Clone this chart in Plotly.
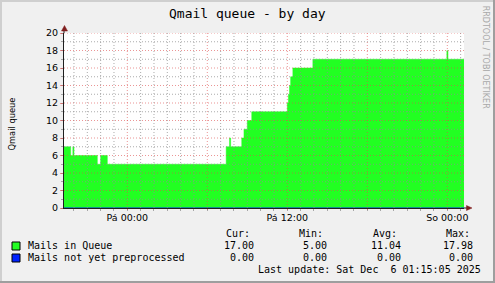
import plotly.graph_objects as go
import pandas as pd

# ---------------- data ----------------
range_start = "2025-12-04 19:15:05"
range_end = "2025-12-06 01:15:05"

queue_times = [
    "2025-12-04 19:15:05", "2025-12-04 19:45", "2025-12-04 19:55", "2025-12-04 20:00",
    "2025-12-04 21:45", "2025-12-04 22:00", "2025-12-04 22:30",
    "2025-12-05 07:25", "2025-12-05 07:40", "2025-12-05 07:45", "2025-12-05 08:35",
    "2025-12-05 08:45", "2025-12-05 09:00", "2025-12-05 09:20",
    "2025-12-05 12:00", "2025-12-05 12:05", "2025-12-05 12:10", "2025-12-05 12:15",
    "2025-12-05 12:25", "2025-12-05 13:55",
    "2025-12-05 23:58", "2025-12-06 00:03", "2025-12-06 01:15:05",
]
queue_values = [7, 6, 7, 6, 5, 6, 5, 7, 8, 7, 8, 9, 10, 11, 12, 13, 14, 15, 16, 17, 17.98, 17, 17]

pre_times = ["2025-12-04 19:15:05", "2025-12-06 01:15:05"]
pre_values = [0, 0]

x_tickvals = ["2025-12-05 00:00", "2025-12-05 06:00", "2025-12-05 12:00",
              "2025-12-05 18:00", "2025-12-06 00:00"]
x_ticktext = ["Pá 00:00", "", "Pá 12:00", "", "So 00:00"]
y_tickvals = [0, 2, 4, 6, 8, 10, 12, 14, 16, 18, 20]

series_names = ["Mails in Queue", "Mails not yet preprocessed"]
series_colors = ["#22ff22", "#0022ff"]
stat_headers = ["Cur:", "Min:", "Avg:", "Max:"]
stat_cur = [17.00, 0.00]
stat_min = [5.00, 0.00]
stat_avg = [11.04, 0.00]
stat_max = [17.98, 0.00]

title_text = "Qmail queue - by day"
y_title = "Qmail queue"
last_update = "Last update: Sat Dec  6 01:15:05 2025"
watermark = "RRDTOOL / TOBI OETIKER"

# ---------------- layout helpers ----------------
W, H = 495, 283
L, T, PW, PH = 64, 33, 400, 175


def px(x):
    return (x - L) / PW


def py(y):
    return (T + PH - y) / PH


MONO = "DejaVu Sans Mono"
SANS = "DejaVu Sans"
GRID = "rgba(143,143,143,0.75)"
MGRID = "rgba(222,79,79,0.6)"
ARROW = "rgb(128,31,31)"
AXIS = "rgb(31,31,31)"

fig = go.Figure()
fig.add_trace(go.Scatter(
    x=queue_times, y=queue_values, mode="lines", line_shape="hv",
    line=dict(color=series_colors[0], width=0.5), fill="tozeroy",
    fillcolor=series_colors[0], hoverinfo="skip", name=series_names[0]))
fig.add_trace(go.Scatter(
    x=pre_times, y=pre_values, mode="lines",
    line=dict(color=series_colors[1], width=1), hoverinfo="skip", name=series_names[1]))

shapes = []
# grid (drawn above the area, like rrdtool)
hours = pd.date_range("2025-12-04 20:00", "2025-12-06 01:00", freq="h")
for h in hours:
    major = h.hour % 6 == 0
    shapes.append(dict(type="line", xref="x", yref="paper", x0=h, x1=h, y0=0, y1=1,
                       layer="above",
                       line=dict(color=MGRID if major else GRID, width=1, dash="1px,2px")))
for v in range(1, 21):
    major = v % 2 == 0
    shapes.append(dict(type="line", xref="paper", yref="y", x0=0, x1=1, y0=v, y1=v,
                       layer="above",
                       line=dict(color=MGRID if major else GRID, width=1, dash="1px,2px")))

# axis extensions and arrows
shapes.append(dict(type="line", xref="paper", yref="paper", x0=px(64), x1=px(64),
                   y0=1, y1=py(29), line=dict(color=AXIS, width=1)))
shapes.append(dict(type="line", xref="paper", yref="paper", x0=1, x1=px(467),
                   y0=0, y1=0, line=dict(color=AXIS, width=1)))
shapes.append(dict(type="path", xref="paper", yref="paper",
                   path=f"M {px(61.5)},{py(31)} L {px(64.5)},{py(25.5)} L {px(67.5)},{py(31)} Z",
                   fillcolor=ARROW, line=dict(color=ARROW, width=0.5)))
shapes.append(dict(type="path", xref="paper", yref="paper",
                   path=f"M {px(466.5)},{py(205.5)} L {px(472)},{py(208)} L {px(466.5)},{py(210.5)} Z",
                   fillcolor=ARROW, line=dict(color=ARROW, width=0.5)))

# 3D frame
shapes.append(dict(type="rect", xref="paper", yref="paper", x0=px(0), x1=px(W),
                   y0=py(0), y1=py(2), fillcolor="#cfcfcf", line=dict(width=0), layer="above"))
shapes.append(dict(type="rect", xref="paper", yref="paper", x0=px(0), x1=px(2),
                   y0=py(0), y1=py(H), fillcolor="#cfcfcf", line=dict(width=0), layer="above"))
shapes.append(dict(type="rect", xref="paper", yref="paper", x0=px(0), x1=px(W),
                   y0=py(H - 2), y1=py(H), fillcolor="#9e9e9e", line=dict(width=0), layer="above"))
shapes.append(dict(type="rect", xref="paper", yref="paper", x0=px(W - 2), x1=px(W),
                   y0=py(0), y1=py(H), fillcolor="#9e9e9e", line=dict(width=0), layer="above"))

# legend squares
for i, c in enumerate(series_colors):
    top = 242 + 12 * i
    shapes.append(dict(type="rect", xref="paper", yref="paper", x0=px(12), x1=px(20),
                       y0=py(top), y1=py(top + 8), fillcolor=c,
                       line=dict(color="black", width=1)))

ann = []


def text(s, x, y, anchor="left", size=10, family=MONO, color="black", angle=0):
    ann.append(dict(text=s.replace(" ", "\u00a0"), x=px(x), y=py(y), xref="paper", yref="paper",
                    xanchor=anchor, yanchor="middle", showarrow=False, textangle=angle,
                    font=dict(family=family, size=size, color=color), borderpad=0))


text(title_text, 247, 13.5, anchor="center", size=13)
text(y_title, 11, 124.5, anchor="center", size=8.3, family=SANS, angle=-90)
text(watermark, 486.3, 57, anchor="center", size=8, family=SANS, color="#a8a8a8", angle=90)

col_left = [225.3, 298, 371.7, 445]
col_right = [255.3, 328.3, 401.7, 474]
for hdr, xl in zip(stat_headers, col_left):
    text(hdr, xl, 233.3)
rows = [(series_names[i], [stat_cur[i], stat_min[i], stat_avg[i], stat_max[i]]) for i in range(2)]
for i, (name, vals) in enumerate(rows):
    yc = 245.5 + 12 * i
    text(name, 26.7, yc)
    for v, xr in zip(vals, col_right):
        text(f"{v:.2f}", xr, yc, anchor="right")
text(last_update, 481.7, 269.5, anchor="right")

fig.update_layout(
    width=W, height=H, autosize=False,
    margin=dict(l=L, r=W - L - PW, t=T, b=H - T - PH, pad=0),
    paper_bgcolor="#f0f0f0", plot_bgcolor="#ffffff",
    showlegend=False, shapes=shapes, annotations=ann,
    xaxis=dict(type="date", range=[range_start, range_end], tickmode="array",
               tickvals=x_tickvals, ticktext=x_ticktext, showgrid=False, zeroline=False,
               showline=True, linecolor=AXIS, linewidth=1,
               ticks="outside", ticklen=1, tickcolor=MGRID,
               tickfont=dict(family=SANS, size=9.5, color="black"),
               minor=dict(dtick=3600000, tick0="2025-12-05 00:00", ticks="outside",
                          ticklen=2, tickcolor=GRID, showgrid=False),
               fixedrange=True),
    yaxis=dict(range=[0, 20], tickmode="array", tickvals=y_tickvals,
               showgrid=False, zeroline=False, showline=True, linecolor=AXIS, linewidth=1,
               ticks="outside", ticklen=3, tickcolor=MGRID,
               tickfont=dict(family=SANS, size=9.5, color="black"),
               minor=dict(dtick=1, ticks="outside", ticklen=2, tickcolor=GRID, showgrid=False),
               fixedrange=True),
)

fig.write_html("out.html", config={"displayModeBar": False})
